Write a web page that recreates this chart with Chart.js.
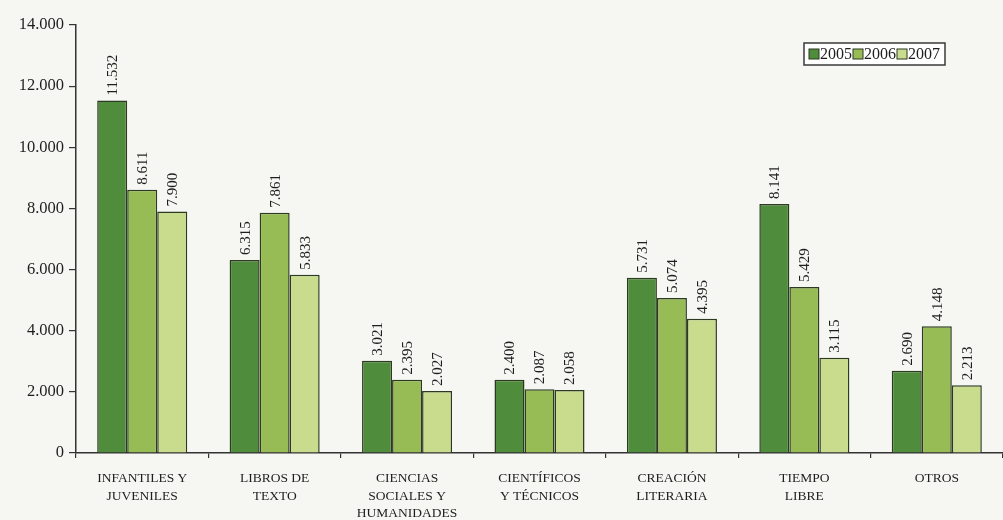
<!DOCTYPE html>
<html>
<head>
<meta charset="utf-8">
<script src="https://cdn.jsdelivr.net/npm/chart.js@4/dist/chart.umd.min.js"></script>
<style>
html,body{margin:0;padding:0;background:#f6f6f3;}
#wrap{position:relative;width:1003px;height:520px;}
</style>
</head>
<body>
<div id="wrap"><canvas id="c" width="1003" height="520"></canvas></div>
<script>
const categories = [
  ["INFANTILES Y","JUVENILES"],
  ["LIBROS DE","TEXTO"],
  ["CIENCIAS","SOCIALES Y","HUMANIDADES"],
  ["CIENTÍFICOS","Y TÉCNICOS"],
  ["CREACIÓN","LITERARIA"],
  ["TIEMPO","LIBRE"],
  ["OTROS"]
];
const seriesNames = ["2005","2006","2007"];
const values2005 = [11532, 6315, 3021, 2400, 5731, 8141, 2690];
const values2006 = [8611, 7861, 2395, 2087, 5074, 5429, 4148];
const values2007 = [7900, 5833, 2027, 2058, 4395, 3115, 2213];
const yTicks = [0, 2000, 4000, 6000, 8000, 10000, 12000, 14000];

const colors = ["#4f8c3c", "#97bb55", "#c9dc8e"];
const FONT = "'Liberation Serif', 'DejaVu Serif', serif";
const fmt = v => String(v).replace(/\B(?=(\d{3})+(?!\d))/g, ".");

const valueLabels = {
  id: 'valueLabels',
  afterDatasetsDraw(chart) {
    const ctx = chart.ctx;
    ctx.save();
    ctx.font = "15px " + FONT;
    ctx.fillStyle = "#1e1e1e";
    ctx.textAlign = "left";
    ctx.textBaseline = "middle";
    chart.data.datasets.forEach((ds, i) => {
      chart.getDatasetMeta(i).data.forEach((bar, j) => {
        ctx.save();
        ctx.translate(bar.x + 1, bar.y - 5);
        ctx.rotate(-Math.PI / 2);
        ctx.fillText(fmt(ds.data[j]), 0, 0);
        ctx.restore();
      });
    });
    ctx.restore();
  }
};

const boxLegend = {
  id: 'boxLegend',
  afterDraw(chart) {
    const ctx = chart.ctx;
    ctx.save();
    ctx.font = "16px " + FONT;
    const x0 = 804, y0 = 43, h = 22;
    let x = x0 + 5;
    const items = chart.data.datasets.map(d => ({label: d.label, color: d.backgroundColor}));
    let w = 5;
    items.forEach(it => { w += 12 + ctx.measureText(it.label).width; });
    w += 4;
    ctx.fillStyle = "#ffffff";
    ctx.fillRect(x0, y0, w, h);
    ctx.strokeStyle = "#3a3a3a";
    ctx.lineWidth = 1.5;
    ctx.strokeRect(x0, y0, w, h);
    ctx.textBaseline = "middle";
    ctx.textAlign = "left";
    items.forEach(it => {
      ctx.fillStyle = it.color;
      ctx.fillRect(x, y0 + 6, 10, 10);
      ctx.strokeStyle = "#2c3a20";
      ctx.lineWidth = 1;
      ctx.strokeRect(x, y0 + 6, 10, 10);
      x += 11;
      ctx.fillStyle = "#1e1e1e";
      ctx.fillText(it.label, x, y0 + h / 2 + 1);
      x += ctx.measureText(it.label).width + 1;
    });
    ctx.restore();
  }
};

const datasets = [values2005, values2006, values2007].map((vals, i) => ({
  label: seriesNames[i],
  data: vals,
  backgroundColor: colors[i],
  borderColor: "#2c3a20",
  borderWidth: 1.5,
  categoryPercentage: 0.68,
  barPercentage: 1.0
}));

new Chart(document.getElementById('c'), {
  type: 'bar',
  data: { labels: categories, datasets },
  options: {
    responsive: false,
    animation: false,
    layout: { padding: { top: 25, left: 0, right: 0, bottom: 0 } },
    plugins: { legend: { display: false }, tooltip: { enabled: false } },
    scales: {
      x: {
        grid: { drawOnChartArea: false, offset: true, tickLength: 5, color: "#333", lineWidth: 1.2 },
        border: { display: true, color: "#333", width: 1.5 },
        ticks: { color: "#1e1e1e", font: { family: FONT, size: 13.5, lineHeight: 1.3 }, maxRotation: 0, autoSkip: false, padding: 12 },
        afterFit(s) { s.height = 67; }
      },
      y: {
        min: 0, max: 14000,
        afterBuildTicks(s) { s.ticks = yTicks.map(v => ({ value: v })); },
        grid: { drawOnChartArea: false, tickLength: 7, color: "#333", lineWidth: 1.2 },
        border: { display: true, color: "#333", width: 1.5 },
        ticks: { color: "#1e1e1e", font: { family: FONT, size: 16.5 }, padding: 5, callback: v => fmt(v) },
        afterFit(s) { s.width = 76; }
      }
    }
  },
  plugins: [valueLabels, boxLegend]
});
</script>
</body>
</html>
